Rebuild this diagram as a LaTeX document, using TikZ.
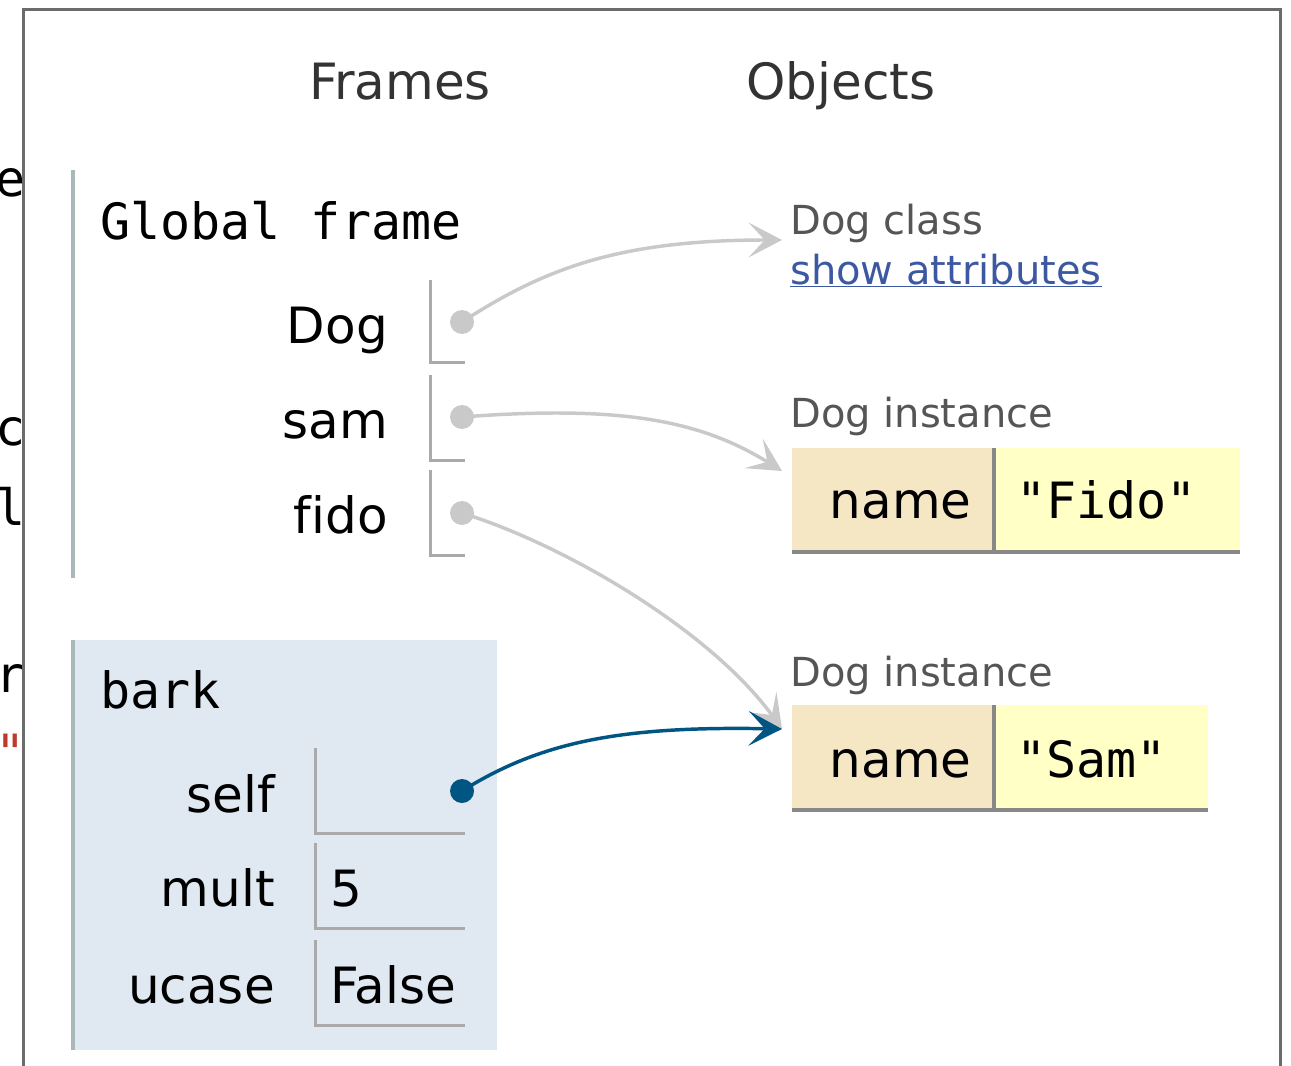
\documentclass[tikz,border=0pt]{standalone}
\usepackage{fontspec}
\setmainfont{DejaVu Sans}[Ligatures=NoCommon]
\setmonofont{DejaVu Sans Mono}
\usetikzlibrary{arrows.meta}
\definecolor{panelline}{HTML}{6B6B6B}
\definecolor{framebar}{HTML}{A9B9B9}
\definecolor{framebg}{HTML}{E0E8F2}
\definecolor{slotline}{HTML}{AAAAAA}
\definecolor{refgray}{HTML}{C9C9C9}
\definecolor{refblue}{HTML}{005583}
\definecolor{linkblue}{HTML}{3D58A2}
\definecolor{keybg}{HTML}{F5E7C3}
\definecolor{valbg}{HTML}{FFFFC6}
\definecolor{headtxt}{HTML}{333333}
\definecolor{labeltxt}{HTML}{555555}
\definecolor{strred}{HTML}{C0392B}

\begin{document}
\begin{tikzpicture}[
          x = 0.75pt, y = -0.75pt,
          > = {Stealth[length=25pt, width=26pt, inset=12pt]},
    bigtxt/.style = {font=\fontsize{37.5}{40}\selectfont, inner sep=0pt},
    montxt/.style = {font=\ttfamily\fontsize{37.5}{40}\selectfont, inner sep=0pt},
   heading/.style = {bigtxt, text=headtxt, anchor=base},
   varname/.style = {bigtxt, anchor=base east},
  objlabel/.style = {font=\fontsize{30}{34}\selectfont, inner sep=0pt, anchor=base west, text=labeltxt},
      slot/.style = {draw=slotline, line width=2.25pt},
       bar/.style = {draw=framebar, line width=3pt},
    celltop/.style = {draw=slotline!80!black, line width=3pt},
    refdot/.style = {circle, fill=refgray, minimum size=18pt, inner sep=0pt},
   activedot/.style = {circle, fill=refblue, minimum size=18pt, inner sep=0pt},
       ptr/.style = {line width=2.6pt, ->, color=refgray},
   activeptr/.style = {line width=2.6pt, ->, color=refblue}
                        ]
\useasboundingbox (0,0) rectangle (1291,1066);
% code panel cut off at the left
\begin{scope}
    \clip (0,0) rectangle (21,1066);
    \node[montxt, anchor=base east] (cutA) at (26,197) {e};
    \node[montxt, anchor=base east] (cutB) at (26,445) {c};
    \node[montxt, anchor=base east] (cutC) at (26,525) {l};
    \node[montxt, anchor=base east] (cutD) at (26,692) {r};
    \node[montxt, anchor=base east, text=strred] (cutE) at (26,770) {"};
\end{scope}
\draw[panelline, line width=2.25pt] (23,1070) -- (23,10) -- (1280,10) -- (1280,1070);
% headings
\node[heading] (frames)  at (400,100) {Frames};
\node[heading] (objects) at (841,100) {Objects};
% global frame
\draw[bar] (73,170) -- (73,578);
\node[montxt, anchor=base west] (global) at (100,240) {Global frame};
\node[varname] (vDog)  at (388,343) {Dog};
\node[varname] (vsam)  at (388,438) {sam};
\node[varname] (vfido) at (388,533) {fido};
\draw[slot] (430,280) -- (430,362) -- (465,362);
\draw[slot] (430,375) -- (430,460) -- (465,460);
\draw[slot] (430,470) -- (430,555) -- (465,555);
% bark frame
\fill[framebg] (72,640) rectangle (497,1050);
\draw[bar] (73,640) -- (73,1050);
\node[montxt, anchor=base west] (bark) at (100,708) {bark};
\node[varname] (vself)  at (275,812)  {self};
\node[varname] (vmult)  at (275,906)  {mult};
\node[varname] (vucase) at (275,1003) {ucase};
\draw[slot] (315,748) -- (315,833) -- (465,833);
\draw[slot] (315,843) -- (315,928) -- (465,928);
\draw[slot] (315,940) -- (315,1025) -- (465,1025);
\node[bigtxt, anchor=base west] (mult)  at (330,906)  {5};
\node[bigtxt, anchor=base west] (ucase) at (330,1003) {False};
% objects
\node[objlabel] (dogcls) at (790,234) {Dog class};
\node[objlabel, text=linkblue] (showattr) at (790,284) {\underline{show attributes}};
\node[objlabel] (fidoinst) at (790,427) {Dog instance};
\fill[keybg] (792,448) rectangle (993,551);
\fill[valbg] (995,448) rectangle (1240,551);
\draw[celltop] (792,552) -- (1240,552);
\draw[celltop] (994,448) -- (994,553);
\node[bigtxt, anchor=base east] (fidokey) at (972,518) {name};
\node[montxt, anchor=base west] (fidoval) at (1016,518) {"Fido"};
\node[objlabel] (saminst) at (790,686) {Dog instance};
\fill[keybg] (792,705) rectangle (993,809);
\fill[valbg] (995,705) rectangle (1208,809);
\draw[celltop] (792,810) -- (1208,810);
\draw[celltop] (994,705) -- (994,811);
\node[bigtxt, anchor=base east] (samkey) at (972,777) {name};
\node[montxt, anchor=base west] (samval) at (1016,777) {"Sam"};
% pointers
\coordinate (toDog)  at (782,240);
\coordinate (toFido) at (782,471);
\coordinate (toSam)  at (782,729);
\node[refdot] (pDog)  at (462,322) {};
\node[refdot] (psam)  at (462,417) {};
\node[refdot] (pfido) at (462,513) {};
\node[activedot] (pself) at (462,791) {};
\draw[ptr] (pDog.center) .. controls (545,268) and (620,240) .. (toDog);
\draw[ptr] (psam.center) .. controls (620,405) and (700,420) .. (toFido);
\draw[ptr] (pfido.center) .. controls (565,545) and (710,630) .. (toSam);
\draw[activeptr] (pself.center) .. controls (540,742) and (620,726) .. (toSam);
\end{tikzpicture}
\end{document}
